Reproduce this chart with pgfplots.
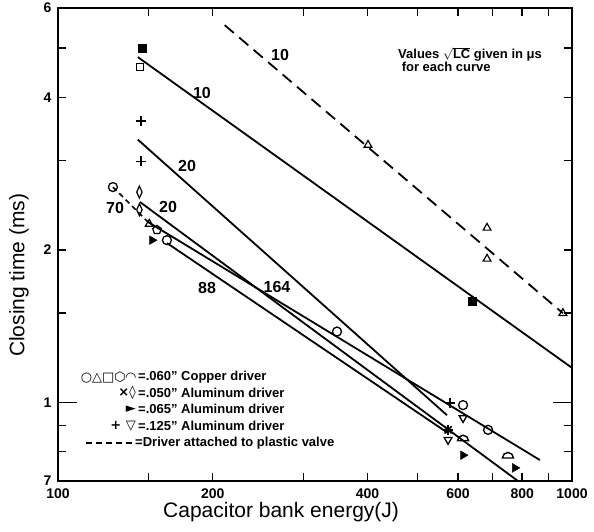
\documentclass[border=0pt]{standalone}
\usepackage{fontspec}
\setmainfont{Liberation Sans}
\newfontfamily\symfont{DejaVu Sans}
\usepackage{pgfplots}
\pgfplotsset{compat=1.18}
\usetikzlibrary{plotmarks}

% dome shaped mark (flat base, round top)
\pgfdeclareplotmark{dome}{%
  \pgfpathmoveto{\pgfqpoint{-\pgfplotmarksize}{-0.5\pgfplotmarksize}}%
  \pgfpathlineto{\pgfqpoint{\pgfplotmarksize}{-0.5\pgfplotmarksize}}%
  \pgfpatharc{0}{180}{\pgfplotmarksize}%
  \pgfpathclose
  \pgfusepathqstroke}

\begin{document}
\begin{tikzpicture}
\begin{axis}[
    name=ax, scale only axis, width=514pt, height=473pt,
    xmode=log, ymode=log,
    xmin=100, xmax=1000, ymin=0.7, ymax=6,
    axis line style={line width=2.2pt},
    xtick={100,200,400,600,800,1000},
    xticklabels={100,200,400,600,800,1000},
    minor xtick={150,300,500,700,900},
    ytick={0.7,2,4,6}, yticklabels={7,2,4,6},
    minor ytick={0.8,0.9,1.5,3,5},
    extra y ticks={1}, extra y tick labels={1},
    extra y tick style={major tick length=19pt},
    tick align=inside, major tick length=8pt, minor tick length=8pt,
    tick style={line width=1.5pt, black},
    /pgf/number format/assume math mode=true,
    ticklabel style={font=\fontsize{14}{14}\selectfont\bfseries},
    xticklabel style={yshift=-4pt},
    yticklabel style={xshift=-3pt},
    xlabel={Capacitor bank energy(J)},
    ylabel={Closing time (ms)},
    label style={font=\fontsize{21}{21}\selectfont},
    xlabel style={at={(axis description cs:0.434,0)}, anchor=north, yshift=-18pt},
    ylabel style={at={(axis description cs:-0.076,0.435)}, anchor=center},
    clip=false,
]
% fitted lines
\addplot[line width=1.8pt, dash pattern=on 12pt off 7pt] coordinates {(211,5.55) (960,1.50)};
\addplot[line width=1.8pt] coordinates {(143,4.80) (1000,1.17)};
\addplot[line width=1.8pt] coordinates {(143,3.30) (571,0.944)};
\addplot[line width=1.8pt] coordinates {(149.6,2.27) (866,0.770)};
\addplot[line width=1.8pt] coordinates {(144.4,2.485) (785,0.70)};
\addplot[line width=1.8pt] coordinates {(162.9,2.063) (574,0.870)};
\addplot[line width=1.6pt, dash pattern=on 5pt off 4pt] coordinates {(127.9,2.66) (149.6,2.27)};

% measured points
\addplot[only marks, mark=triangle, mark size=4.5pt, mark options={line width=1.2pt}]
  coordinates {(401,3.22) (683.5,2.21) (683.5,1.92) (960,1.50) (150.5,2.25)};
\addplot[only marks, mark=square*, mark size=3.8pt] coordinates {(145.7,5.00) (639,1.585)};
\addplot[only marks, mark=square, mark size=3.6pt, mark options={line width=1.2pt}] coordinates {(144.4,4.59)};
\addplot[only marks, mark=+, mark size=5pt, mark options={line width=1.6pt}]
  coordinates {(145,3.59) (145,2.99) (574,0.883) (579,0.998)};
\addplot[only marks, mark=diamond, mark size=6pt, mark options={xscale=0.6, line width=1.2pt}]
  coordinates {(144,2.60) (144,2.40)};
\addplot[only marks, mark=x, mark size=5pt, mark options={line width=1.6pt}] coordinates {(574,0.883)};
\addplot[only marks, mark=o, mark size=4.5pt, mark options={line width=1.3pt}]
  coordinates {(127.9,2.66) (162.9,2.09) (349,1.38) (613.8,0.988) (686.6,0.883)};
\addplot[only marks, mark=pentagon, mark size=4.5pt, mark options={line width=1.2pt}] coordinates {(155.8,2.19)};
\addplot[only marks, mark=dome, mark size=5.5pt, mark options={line width=1.4pt}]
  coordinates {(613.8,0.851) (750.6,0.787)};
\addplot[only marks, mark=triangle*, mark size=5pt, mark options={rotate=-90}]
  coordinates {(152.4,2.09) (613.8,0.787) (774.5,0.743)};
\addplot[only marks, mark=triangle, mark size=4.5pt, mark options={rotate=180, line width=1.3pt}]
  coordinates {(613.8,0.932) (573.9,0.844)};

% curve labels
\begin{scope}[every node/.style={font=\fontsize{16}{16}\selectfont\bfseries}]
\node at (axis description cs:0.432,0.901) {10};
\node at (axis description cs:0.280,0.820) {10};
\node at (axis description cs:0.251,0.666) {20};
\node at (axis description cs:0.214,0.579) {20};
\node at (axis description cs:0.111,0.577) {70};
\node at (axis description cs:0.290,0.408) {88};
\node at (axis description cs:0.426,0.410) {164};
\end{scope}

\node[anchor=west, font=\fontsize{13}{13}\selectfont\bfseries]
  at (axis description cs:0.655,0.902) {Values $\sqrt{\mathbf{LC}}$ given in μs};
\node[anchor=west, font=\fontsize{13}{13}\selectfont\bfseries]
  at (axis description cs:0.662,0.876) {for each curve};

% key
\begin{scope}[every node/.style={font=\fontsize{13}{13}\selectfont\bfseries, inner sep=1pt}]
\node[anchor=east] at (axis description cs:0.1537,0.2199) {\symfont ○△□⬡◠};
\node[anchor=west] at (axis description cs:0.1537,0.2199) {=.060'' Copper driver};
\node[anchor=east] at (axis description cs:0.1537,0.186) {\symfont ×◊};
\node[anchor=west] at (axis description cs:0.1537,0.186) {=.050'' Aluminum driver};
\node[anchor=east] at (axis description cs:0.1537,0.1522) {\symfont ►};
\node[anchor=west] at (axis description cs:0.1537,0.1522) {=.065'' Aluminum driver};
\node[anchor=east] at (axis description cs:0.1537,0.1163) {\symfont + ▽};
\node[anchor=west] at (axis description cs:0.1537,0.1163) {=.125'' Aluminum driver};
\node[anchor=west] at (axis description cs:0.1479,0.0803) {=Driver attached to plastic valve};
\end{scope}
\draw[line width=1.6pt, dash pattern=on 6pt off 4pt]
  (axis description cs:0.055,0.0803) -- (axis description cs:0.146,0.0803);
\end{axis}
\pgfresetboundingbox
\path ([shift={(-58pt,-51pt)}]ax.south west) rectangle ([shift={(22pt,8pt)}]ax.north east);
\end{tikzpicture}
\end{document}
